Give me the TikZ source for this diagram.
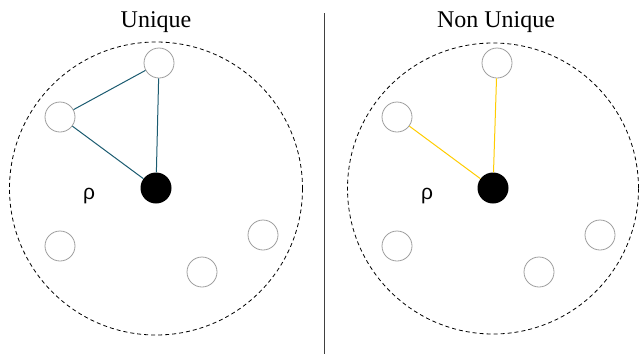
\documentclass[tikz,border=0pt]{standalone}
\usepackage{fontspec}
\setmainfont{Liberation Serif}
\newfontfamily\rhofont{Liberation Sans}
\usepackage{tikz}
\usetikzlibrary{backgrounds}
\definecolor{linkteal}{HTML}{1B5B70}
\definecolor{linkgold}{HTML}{FFCC00}
\tikzstyle{site}=[circle,draw=gray!75,line width=0.8pt,fill=white,minimum size=30pt,inner sep=0pt]
\tikzstyle{seed}=[circle,fill=black,minimum size=31pt,inner sep=0pt]
\tikzstyle{reach}=[draw,dash pattern=on 4pt off 3pt,line width=0.8pt]
\tikzstyle{heading}=[anchor=base,font=\fontsize{24}{28}\selectfont]
\tikzstyle{rholabel}=[anchor=base,font=\rhofont\fontsize{21}{24}\selectfont]

\begin{document}
\begin{tikzpicture}[x=1pt,y=-1pt]
	\useasboundingbox (0,0) rectangle (639,354);
	% left panel
	\node[heading] (tU) at (156,27) {Unique};
	\draw[reach] (156,188.5) circle (146.5);
	\node[seed] (cU) at (156,188) {};
	\node[site] (aU) at (159,63) {};
	\node[site] (bU) at (60,117) {};
	\node[site] (dU) at (60,246) {};
	\node[site] (eU) at (202,272) {};
	\node[site] (fU) at (263,235) {};
	\node[rholabel] (rU) at (89,199) {ρ};
	\draw[linkteal,line width=1pt] (bU) -- (aU);
	\draw[linkteal,line width=1pt] (aU) -- (cU);
	\draw[linkteal,line width=1pt] (bU) -- (cU);
	% divider
	\coordinate (sepA) at (324,13);
	\coordinate (sepB) at (324,354);
	\draw[black!75,line width=1pt] (sepA) -- (sepB);
	% right panel
	\node[heading] (tN) at (496,27) {Non Unique};
	\draw[reach] (493,188.5) circle (145.5);
	\node[seed] (cN) at (493,188) {};
	\node[site] (aN) at (497,63) {};
	\node[site] (bN) at (397,117) {};
	\node[site] (dN) at (397,246) {};
	\node[site] (eN) at (539,272) {};
	\node[site] (fN) at (600,235) {};
	\node[rholabel] (rN) at (427,199) {ρ};
	\draw[linkgold,line width=1pt] (bN) -- (cN);
	\draw[linkgold,line width=1pt] (aN) -- (cN);
\end{tikzpicture}
\end{document}
